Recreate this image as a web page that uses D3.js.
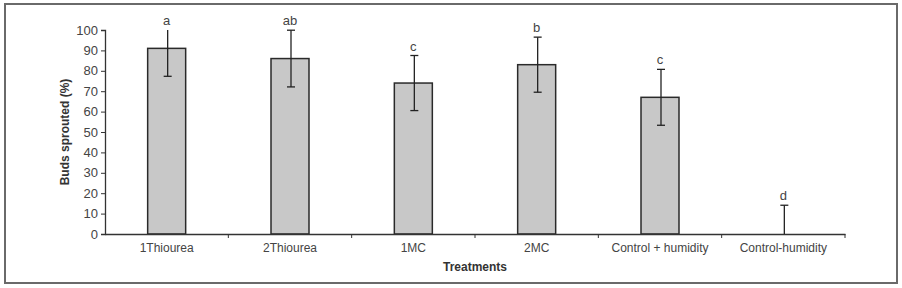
<!DOCTYPE html>
<html>
<head>
<meta charset="utf-8">
<script src="https://cdn.jsdelivr.net/npm/d3@7"></script>
<style>
	body { margin: 0; background: #fff; }
	text { font-family: "Liberation Sans Narrow", "Arial Narrow", "Liberation Sans", sans-serif; }
</style>
</head>
<body>
<div id="content"></div>
<script>
var treatments = ["1Thiourea", "2Thiourea", "1MC", "2MC", "Control + humidity", "Control-humidity"];
var sprouted = [91, 86, 74, 83, 67, 0];
var errors = [13.7, 13.9, 13.5, 13.5, 13.7, 14.1];
var letters = ["a", "ab", "c", "b", "c", "d"];
var yTicks = [0, 10, 20, 30, 40, 50, 60, 70, 80, 90, 100];

function main() {
	var width = 902, height = 288;
	var margin = { top: 30, left: 105, right: 57, bottom: 54 };

	var svg = d3.select("#content")
		.append("svg")
		.attr("width", width)
		.attr("height", height);

	// outer frame
	svg.append("rect")
		.attr("x", 5).attr("y", 4)
		.attr("width", 892).attr("height", 279)
		.attr("fill", "none")
		.attr("stroke", "#6a6a6a")
		.attr("stroke-width", 2);

	var x = d3.scaleBand()
		.domain(treatments)
		.range([margin.left, width - margin.right]);

	var y = d3.scaleLinear()
		.domain([0, 100])
		.range([height - margin.bottom, margin.top]);

	// y axis
	var yAxis = svg.append("g")
		.attr("transform", `translate(${margin.left},0)`)
		.call(d3.axisLeft(y).tickValues(yTicks).tickSize(4).tickPadding(3));
	yAxis.selectAll("text").attr("font-size", 13).attr("fill", "#444");

	// bars
	var barW = 38;
	svg.append("g")
		.selectAll("rect")
		.data(sprouted)
		.enter().append("rect")
		.attr("x", function (d, i) { return x(treatments[i]) + x.bandwidth() / 2 - barW / 2; })
		.attr("y", function (d) { return y(d); })
		.attr("width", barW)
		.attr("height", function (d) { return y(0) - y(d); })
		.attr("fill", "#c8c8c8")
		.attr("stroke", "#2a2a2a")
		.attr("stroke-width", 1.5);

	// x axis
	var xAxis = svg.append("g")
		.attr("transform", `translate(0,${y(0)})`)
		.call(d3.axisBottom(x).tickSize(0).tickPadding(9));
	xAxis.selectAll("text").attr("font-size", 12).attr("fill", "#444");
	// boundary ticks between categories
	var bounds = treatments.map(function (t) { return x(t); }).concat([width - margin.right]);
	xAxis.selectAll(".bnd")
		.data(bounds.slice(1))
		.enter().append("line")
		.attr("x1", function (d) { return d; })
		.attr("x2", function (d) { return d; })
		.attr("y1", 0).attr("y2", 4)
		.attr("stroke", "#333");

	svg.selectAll(".domain").attr("stroke", "#333").attr("stroke-width", 1.3);
	svg.selectAll(".tick line").attr("stroke", "#333");

	// error bars (clipped at 100)
	var eb = svg.append("g").attr("stroke", "#222").attr("stroke-width", 1.3);
	sprouted.forEach(function (v, i) {
		var cx = x(treatments[i]) + x.bandwidth() / 2 + 1;
		var top = Math.min(v + errors[i], 100);
		var bot = Math.max(v - errors[i], 0);
		eb.append("line")
			.attr("x1", cx).attr("x2", cx)
			.attr("y1", y(top)).attr("y2", y(bot));
		if (v + errors[i] <= 100) {
			eb.append("line")
				.attr("x1", cx - 4).attr("x2", cx + 4)
				.attr("y1", y(top)).attr("y2", y(top));
		}
		if (v - errors[i] > 0) {
			eb.append("line")
				.attr("x1", cx - 4).attr("x2", cx + 4)
				.attr("y1", y(bot)).attr("y2", y(bot));
		}
		svg.append("text")
			.attr("x", cx - 1)
			.attr("y", y(top) - 5)
			.attr("text-anchor", "middle")
			.attr("font-size", 13)
			.attr("fill", "#444")
			.text(letters[i]);
	});

	// axis titles
	svg.append("text")
		.attr("transform", `translate(69,${(y(0) + y(100)) / 2}) rotate(-90)`)
		.attr("text-anchor", "middle")
		.attr("font-size", 12)
		.attr("font-weight", "bold")
		.attr("fill", "#333")
		.text("Buds sprouted (%)");

	svg.append("text")
		.attr("x", (margin.left + width - margin.right) / 2)
		.attr("y", 271)
		.attr("text-anchor", "middle")
		.attr("font-size", 12)
		.attr("font-weight", "bold")
		.attr("fill", "#333")
		.text("Treatments");
}

main();
</script>
</body>
</html>
